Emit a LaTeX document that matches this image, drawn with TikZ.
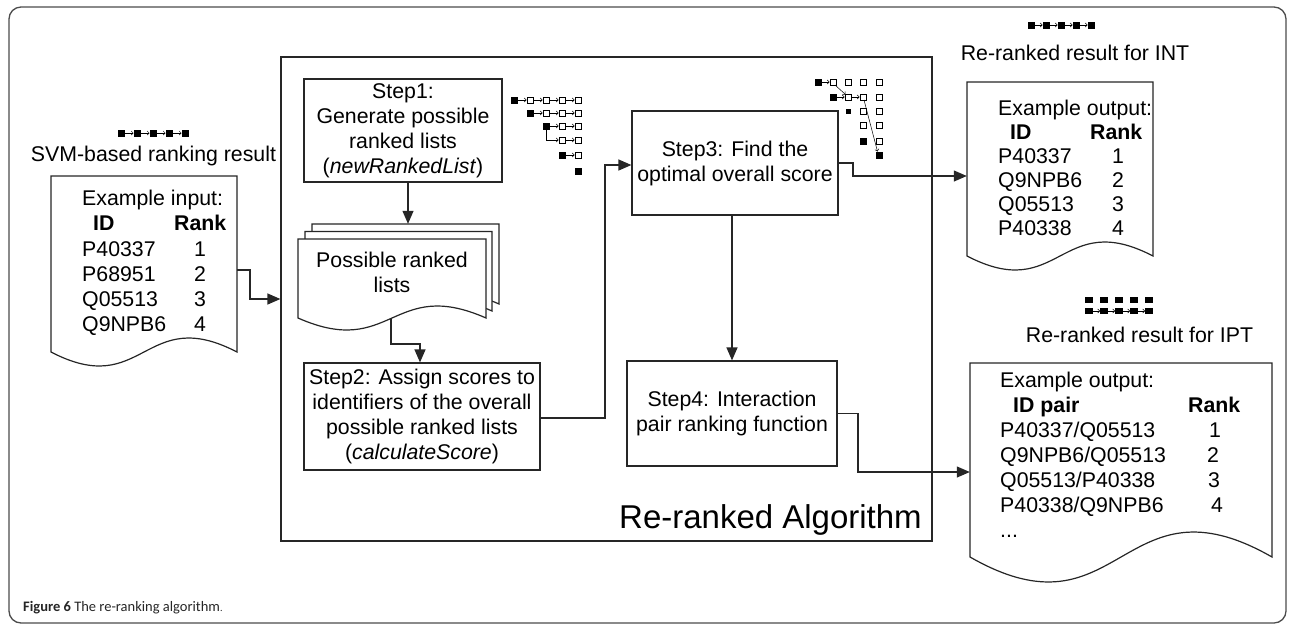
\documentclass[tikz,border=0pt]{standalone}
\usepackage{fontspec}
\setmainfont{Liberation Sans}
\newfontfamily\capfont{Carlito}
\usetikzlibrary{arrows.meta}
\newcommand{\icB}[2]{\fill[black] ({#1-3.5},{#2-3.5}) rectangle ++(7,7);}
\newcommand{\icW}[2]{\draw[line width=0.7pt,fill=white] ({#1-3},{#2-3}) rectangle ++(6,6);}
\newcommand{\icA}[3]{\draw[icarr] ({#1+3.5},#3) -- ({#2-3.5},#3);}
\newcommand{\docpath}[5]{\draw[docline] (#1,#2) -- (#3,#2) -- (#3,#4) .. controls ({(#1+#3)/2},{#4-3.46*#5}) and ({(#1+#3)/2},{#4+3.46*#5}) .. (#1,#4) -- cycle;}
\begin{document}
\begin{tikzpicture}[x=1pt,y=-1pt,
  font=\fontsize{21.3}{25}\selectfont,
  box/.style={draw=black!85,line width=1.2pt,fill=white,align=center,inner sep=0pt},
  ghost/.style={inner sep=0pt,align=center},
  docline/.style={draw=black!85,line width=1.2pt,fill=white},
  conn/.style={draw=black!85,line width=1.2pt,-{Triangle[length=13pt,width=11pt]}},
  icarr/.style={line width=0.5pt,-{Straight Barb[length=2pt,width=4pt]}},
  tx/.style={inner sep=0pt,text height=15.3pt,text depth=0pt,anchor=west},
  num/.style={inner sep=0pt,text height=15.3pt,text depth=0pt}]
\useasboundingbox (0,0) rectangle (1290,625);
% outer frame
\draw[black!70,line width=1.3pt,rounded corners=12pt] (9,7) rectangle (1286,623);
% big algorithm box
\node[box,minimum width=651pt,minimum height=484pt] (alg) at (606.5,299) {};
\node[inner sep=0pt,anchor=east,font=\fontsize{33}{38}\selectfont] (algl) at (922,520) {Re-ranked Algorithm};
% documents
\docpath{51}{176}{237}{352}{14}
\docpath{312}{224}{499}{304}{12}
\docpath{305}{231.5}{492}{311}{12}
\docpath{298}{239}{486}{318}{12}
\docpath{967}{82}{1153}{256}{14}
\docpath{970}{363}{1272}{557}{25}
\node[ghost,minimum width=186pt,minimum height=176pt] (inp) at (144,264) {};
\node[ghost,minimum width=187pt,minimum height=80pt] (dback) at (405.5,264) {};
\node[ghost,minimum width=188pt,minimum height=79pt] (dfront) at (392,278.5) {};
\node[ghost] (dtext) at (392,272) {Possible ranked\\lists};
\node[ghost,minimum width=186pt,minimum height=174pt] (intd) at (1060,169) {};
\node[ghost,minimum width=302pt,minimum height=194pt] (iptd) at (1121,460) {};
% step boxes
\node[box,minimum width=198pt,minimum height=103pt] (s1) at (403,130.5) {Step1:\\Generate possible\\ranked lists\\(\textit{newRankedList})};
\node[box,minimum width=236pt,minimum height=107pt] (s2) at (422,416.5) {Step2: Assign scores to\\identifiers of the overall\\possible ranked lists\\(\textit{calculateScore})};
\node[box,minimum width=206pt,minimum height=104pt] (s3) at (735,163) {Step3: Find the\\optimal overall score};
\node[box,minimum width=210pt,minimum height=105pt] (s4) at (732,413.5) {Step4: Interaction\\pair ranking function};
% titles
\node[ghost] (svml) at (153.5,156) {SVM-based ranking result};
\node[ghost] (intl) at (1075,53) {Re-ranked result for INT};
\node[ghost] (iptl) at (1139.5,335) {Re-ranked result for IPT};
% input table
\node[tx] (ie) at (82,198) {Example input:};
\node[tx] (iid) at (93,223) {\textbf{ID}};
\node[tx] (irk) at (174,223) {\textbf{Rank}};
\node[tx] (i1) at (82,249) {P40337}; \node[num] (i1r) at (200,249) {1};
\node[tx] (i2) at (82,274) {P68951}; \node[num] (i2r) at (200,274) {2};
\node[tx] (i3) at (82,299) {Q05513}; \node[num] (i3r) at (200,299) {3};
\node[tx] (i4) at (82,324) {Q9NPB6}; \node[num] (i4r) at (200,324) {4};
% INT table
\node[tx] (oe) at (998,108) {Example output:};
\node[tx] (oid) at (1010,132) {\textbf{ID}};
\node[tx] (ork) at (1090,132) {\textbf{Rank}};
\node[tx] (o1) at (998,156) {P40337}; \node[num] (o1r) at (1118,156) {1};
\node[tx] (o2) at (998,180) {Q9NPB6}; \node[num] (o2r) at (1118,180) {2};
\node[tx] (o3) at (998,204) {Q05513}; \node[num] (o3r) at (1118,204) {3};
\node[tx] (o4) at (998,228) {P40338}; \node[num] (o4r) at (1118,228) {4};
% IPT table
\node[tx] (pe) at (1000,380) {Example output:};
\node[tx] (pid) at (1013,405) {\textbf{ID pair}};
\node[tx] (prk) at (1188,405) {\textbf{Rank}};
\node[tx] (p1) at (1000,430) {P40337/Q05513}; \node[num] (p1r) at (1215,430) {1};
\node[tx] (p2) at (1000,455) {Q9NPB6/Q05513}; \node[num] (p2r) at (1213,455) {2};
\node[tx] (p3) at (1000,480) {Q05513/P40338}; \node[num] (p3r) at (1214,480) {3};
\node[tx] (p4) at (1000,505) {P40338/Q9NPB6}; \node[num] (p4r) at (1217,505) {4};
\node[tx] (p5) at (1000,530) {...};
% connectors
\coordinate (j1) at (250,299);
\draw[conn] ([yshift=-6pt]inp.east) -| (j1) -- (j1 -| alg.west);
\draw[conn] ([xshift=5pt]s1.south) -- ([xshift=5pt]s1.south |- dback.north);
\coordinate (j3) at (420,344);
\draw[conn] ([xshift=-1pt]dfront.south) |- (j3) -- (j3 |- s2.north);
\coordinate (j4) at (605,165);
\draw[conn] ([yshift=-1.5pt]s2.east) -| (j4) -- (j4 -| s3.west);
\coordinate (j5) at (853,176);
\draw[conn] (s3.east) -| (j5) -- (j5 -| intd.west);
\coordinate (j6) at (732,200);
\draw[conn] (j6 |- s3.south) -- (s4.north);
\coordinate (j7) at (858,472);
\draw[conn] (s4.east) -| (j7) -- (j7 -| iptd.west);
% icons: SVM
\foreach \x in {121,137,153,169,185} {\icB{\x}{133}}
\foreach \x/\y in {121/137,137/153,153/169,169/185} {\icA{\x}{\y}{133}}
% INT
\foreach \x in {1031,1046,1061,1076,1091} {\icB{\x}{25}}
\foreach \x/\y in {1031/1046,1046/1061,1061/1076,1076/1091} {\icA{\x}{\y}{25}}
% IPT
\foreach \x in {1085,1100,1115,1130,1145} {\fill (\x,297) rectangle ++(8,6); \fill (\x,308) rectangle ++(8,6);}
\foreach \x in {1093,1108,1123,1138} {\draw[icarr] (\x,311) -- ++(7,0);}
% Step1 icon
\icB{514}{100} \icW{530}{100} \icW{546}{100} \icW{562}{100} \icW{578}{100}
\icA{514}{530}{100} \icA{530}{546}{100} \icA{546}{562}{100} \icA{562}{578}{100}
\icB{530}{113} \icW{546}{113} \icW{562}{113} \icW{578}{113}
\icA{530}{546}{113} \icA{546}{562}{113} \icA{562}{578}{113}
\icB{546}{126} \icW{562}{126} \icW{578}{126}
\icA{546}{562}{126} \icA{562}{578}{126}
\draw[icarr] (546,129.5) |- (558.5,140);
\icW{562}{140} \icW{578}{140} \icA{562}{578}{140}
\icB{562}{155} \icW{578}{155} \icA{562}{578}{155}
\icB{578}{171}
% Step3 icon
\icB{818}{82} \icW{833}{82} \icW{848}{82} \icW{863}{82} \icW{879}{82}
\icA{818}{833}{82}
\icB{833}{97} \icW{848}{97} \icW{863}{97} \icW{879}{97}
\icA{833}{848}{97} \icA{848}{863}{97}
\fill (845.5,108.5) rectangle ++(5,5); \icW{863}{111} \icW{879}{111}
\icW{863}{125} \icW{879}{125}
\icB{863}{141} \icW{879}{141}
\icB{879}{155}
\draw[icarr] (835,85) -- (845.5,94.5);
\draw[icarr] (864,100) -- (877.5,151.5);
% caption
\node[inner sep=0pt,anchor=west,text=black!85] (cap) at (23,608) {\capfont\fontsize{14.5}{16}\selectfont\textbf{Figure 6} The re-ranking algorithm{\fontsize{10}{12}\selectfont .}};
\end{tikzpicture}
\end{document}
